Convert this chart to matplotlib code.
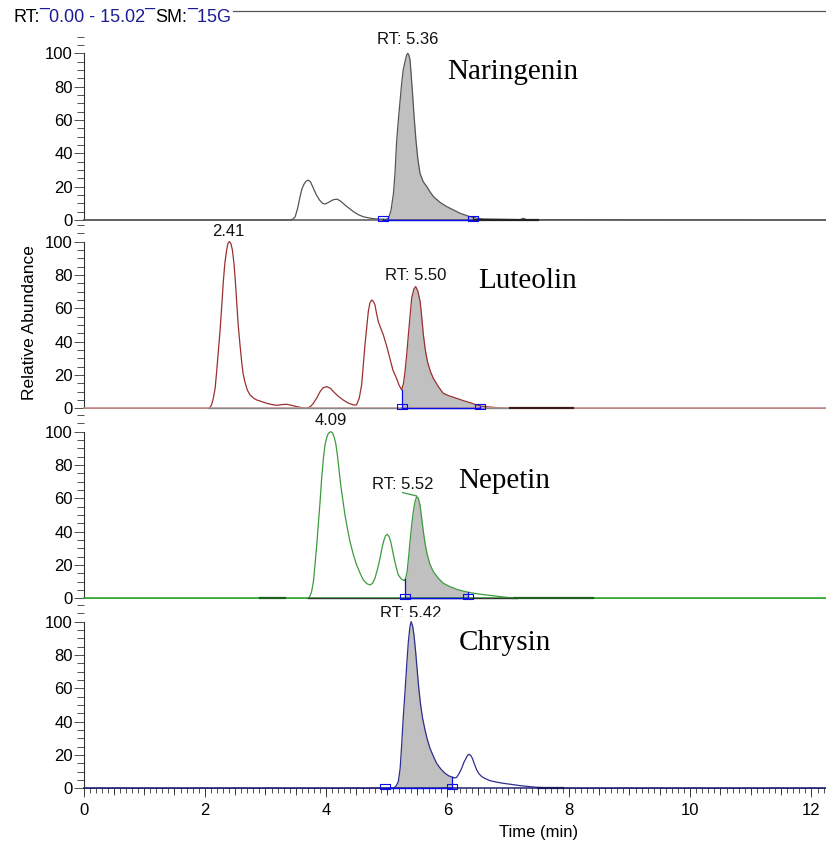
import matplotlib
matplotlib.use("Agg")
import numpy as np
import matplotlib.pyplot as plt
from matplotlib.ticker import MultipleLocator, NullFormatter
from matplotlib.transforms import Bbox, TransformedBbox

plt.rcParams['font.family'] = ['Liberation Sans', 'DejaVu Sans']

W, H = 826, 847
T_MAX = 12.24

# retention time (min) and relative abundance (%)
naringenin_t = [0, 3.42, 3.46, 3.49, 3.53, 3.57, 3.60, 3.635, 3.67, 3.706, 3.74, 3.79, 3.84, 3.89,
                3.94, 3.98, 4.02, 4.06, 4.12, 4.18, 4.24, 4.31, 4.38, 4.45, 4.53, 4.61, 4.72, 4.83,
                4.99, 5.03, 5.07, 5.11, 5.135, 5.16, 5.19, 5.22, 5.245, 5.27, 5.306, 5.325, 5.345,
                5.365, 5.383, 5.40, 5.42, 5.45, 5.48, 5.51, 5.547, 5.60, 5.66, 5.71, 5.77, 5.88,
                5.99, 6.10, 6.21, 6.29, 6.37, 6.48, 6.59, 7.2, 7.25, 7.3, 12.24]
naringenin_v = [0, 0, 0.8, 2, 7, 14, 18.5, 21.5, 23.3, 23.9, 23, 19, 15, 12,
                10, 9.6, 10.2, 11, 12.2, 12.5, 11.3, 9, 7, 5, 3.2, 2, 1.1, 0.6,
                0.4, 1.2, 6, 16, 28, 46, 60, 72, 82, 90, 96, 98.8, 100,
                98.8, 96, 88, 78, 62, 48, 37, 28, 23, 20, 17, 14, 10.5,
                8, 6, 4, 3, 2, 1.1, 0.6, 0.2, 1, 0.2, 0]

luteolin_t = [0, 2.06, 2.085, 2.11, 2.14, 2.17, 2.195, 2.22, 2.25, 2.28, 2.305, 2.33, 2.36, 2.38,
              2.404, 2.43, 2.454, 2.48, 2.5, 2.525, 2.55, 2.58, 2.607, 2.63, 2.66, 2.70, 2.745,
              2.80, 2.855, 2.94, 3.02, 3.10, 3.185, 3.27, 3.35, 3.43, 3.51, 3.60, 3.68, 3.74, 3.79,
              3.85, 3.90, 3.95, 4.01, 4.07, 4.12, 4.20, 4.28, 4.36, 4.45, 4.5, 4.545, 4.585, 4.61,
              4.64, 4.67, 4.695, 4.72, 4.75, 4.78, 4.805, 4.83, 4.86, 4.90, 4.943, 5.00, 5.05,
              5.10, 5.16, 5.20, 5.245, 5.275, 5.30, 5.33, 5.355, 5.385, 5.41, 5.445, 5.476, 5.51,
              5.55, 5.575, 5.603, 5.635, 5.67, 5.72, 5.767, 5.85, 5.93, 6.04, 6.15, 6.26, 6.37,
              6.45, 6.54, 6.68, 6.81, 7.0, 12.24]
luteolin_v = [0, 0, 0.5, 2, 6, 12, 22, 33, 46, 62, 76, 87, 95, 98.8,
              100, 98.8, 95, 87, 78, 64, 50, 38, 28, 21, 16, 11, 8,
              6.2, 5, 4, 3, 2.3, 1.8, 2.2, 2.4, 1.8, 1, 0.4, 0, 1, 3,
              6.5, 10, 12.3, 13, 12, 10, 7.2, 5, 3.2, 2, 2, 6, 14, 25,
              38, 49, 58, 63, 65, 64, 62, 57, 52, 48, 44, 37, 30,
              23, 18, 14, 11, 15, 22, 33, 44, 56, 66, 71.5, 73, 70.5,
              64, 55, 44, 35, 28, 22, 18, 13, 9, 7.3, 6, 4.6, 3.4,
              2.4, 1.4, 0.8, 0.4, 0, 0]

nepetin_t = [0, 3.707, 3.735, 3.76, 3.79, 3.816, 3.845, 3.87, 3.90, 3.926, 3.955, 3.981, 4.01,
             4.037, 4.075, 4.105, 4.13, 4.16, 4.185, 4.21, 4.24, 4.275, 4.31, 4.35, 4.393, 4.45,
             4.503, 4.56, 4.613, 4.67, 4.723, 4.765, 4.805, 4.85, 4.888, 4.92, 4.954, 4.98, 5.01,
             5.04, 5.064, 5.09, 5.12, 5.155, 5.19, 5.24, 5.29, 5.31, 5.335, 5.36, 5.382, 5.41,
             5.437, 5.465, 5.492, 5.52, 5.547, 5.575, 5.602, 5.635, 5.668, 5.71, 5.767, 5.85,
             5.932, 6.04, 6.152, 6.26, 6.372, 6.51, 6.646, 6.78, 6.92, 7.03, 7.14, 12.24]
nepetin_v = [0, 0, 1.5, 4, 10, 20, 32, 44, 58, 72, 84, 92, 96.5,
             99, 100, 99.2, 97, 92.5, 86, 78, 68, 59, 50, 42, 34, 26,
             20, 15, 11, 8.8, 8, 9, 12, 18, 24, 30, 35, 37.6, 38.4,
             36.8, 34, 29.5, 24, 18.5, 14, 11.5, 10.6, 12, 16, 25, 34, 44,
             52, 58, 61, 60, 56, 48, 40, 32, 26, 20.5, 16, 12,
             9, 7, 5.4, 4.3, 3.4, 2.6, 2, 1.4, 0.8, 0.4, 0, 0]
nepetin_tick_t = [5.26, 5.49]
nepetin_tick_v = [63.4, 61.4]

chrysin_t = [0, 5.107, 5.15, 5.19, 5.22, 5.245, 5.27, 5.30, 5.33, 5.355, 5.38, 5.40, 5.425, 5.448,
             5.475, 5.503, 5.53, 5.558, 5.59, 5.63, 5.67, 5.712, 5.77, 5.822, 5.89, 5.96, 6.02,
             6.085, 6.12, 6.152, 6.19, 6.234, 6.27, 6.306, 6.33, 6.356, 6.385, 6.41, 6.445, 6.482,
             6.52, 6.565, 6.63, 6.70, 6.81, 6.92, 7.06, 7.197, 7.33, 7.47, 7.65, 7.85, 12.24]
chrysin_v = [0, 0, 1.2, 4, 12, 26, 42, 58, 75, 88, 96.5, 100, 97.5, 92,
             82, 70, 59, 50, 42, 35, 29, 24, 19, 15, 11.6, 9, 7.5,
             6.6, 6.2, 6.6, 8.8, 12, 15.5, 18, 19.8, 20.4, 19.6, 18, 14.5, 11,
             8.7, 7, 5.7, 4.6, 3.7, 3, 2.3, 1.6, 1.1, 0.6, 0.3, 0, 0]

compounds = ["Naringenin", "Luteolin", "Nepetin", "Chrysin"]
# integrated peak window (start, end) in min
windows = [(4.93, 6.42), (5.245, 6.54), (5.30, 6.333), (4.97, 6.075)]
# peak labels: text, time, abundance
peak_labels = [
    [("RT: 5.36", 5.35, 113.0)],
    [("2.41", 2.39, 106.0), ("RT: 5.50", 5.47, 79.5)],
    [("4.09", 4.075, 106.5), ("RT: 5.52", 5.26, 68.2)],
    [("RT: 5.42", 5.40, 109.5)],
]
name_pos = [(5.99, 84.7), (6.51, 72.4), (6.18, 66.4), (6.18, 83.0)]
noise_ranges = [[(6.45, 7.5)], [(7.03, 8.07)], [(2.91, 3.32), (7.1, 8.4)], [(7.5, 7.9)]]

traces = [(naringenin_t, naringenin_v), (luteolin_t, luteolin_v),
          (nepetin_t, nepetin_v), (chrysin_t, chrysin_v)]
line_colors = ['#555555', '#9b3030', '#3d9b3d', '#2e2e8e']
base_colors = ['#555555', '#c99a9a', '#33aa33', '#22226e']
under_colors = [None, '#888888', '#333333', None]
noise_colors = ['#222222', '#3a1a1a', '#1f5f1f', '#1a1a5a']
clip_below = [104.8, None, None, 103.0]

baselines_px = [220, 408.3, 598.3, 788.3]
panel_px = 189
px_per_unit = 1.667
ytop = panel_px / px_per_unit
x0_px = 83.5
blue = '#0a0aee'
axis_col = '#333333'
rect_marker = [(-1, -0.3), (1, -0.3), (1, 0.83), (-1, 0.83), (-1, -0.3)]

fig = plt.figure(figsize=(W / 100, H / 100), dpi=100)

for i in range(4):
    base = baselines_px[i]
    ax = fig.add_axes([x0_px / W, 1 - base / H, 1 - x0_px / W, panel_px / H])
    t = np.array(traces[i][0])
    v = np.array(traces[i][1])

    # integrated area
    a, b = windows[i]
    inside = (t > a) & (t < b)
    ft = np.concatenate([[a], t[inside], [b]])
    fv = np.interp(ft, t, v)
    ax.fill_between(ft, 0, fv, color='#c0c0c0', lw=0, zorder=1)

    ax.plot(t, v, color=line_colors[i], lw=0.9, zorder=2, clip_on=False)
    ax.plot([0, T_MAX], [0, 0], color=base_colors[i], lw=1.1, zorder=3, clip_on=False)
    if under_colors[i]:
        nz = np.nonzero(v)[0]
        ax.plot([t[nz[0] - 1], t[nz[-1] + 1]], [0, 0], color=under_colors[i], lw=1.0, zorder=3,
                clip_on=False)
    for s, e in noise_ranges[i]:
        ax.plot([s, e], [0, 0], color=noise_colors[i], lw=1.6, zorder=3, clip_on=False)
    if i == 2:
        ax.plot(nepetin_tick_t, nepetin_tick_v, color=line_colors[i], lw=0.9, zorder=2)

    ax.plot([a, b], [0, 0], color=blue, lw=1.0, zorder=4, clip_on=False)
    ax.plot([a, a], [0, fv[0]], color=blue, lw=0.9, zorder=4)
    ax.plot([b, b], [0, fv[-1]], color=blue, lw=0.9, zorder=4)
    ax.plot([a, b], [0, 0], ls='none', marker=rect_marker, ms=6.5, mfc='none', mec=blue, mew=0.8,
            zorder=5, clip_on=False)

    for txt, tx, ty in peak_labels[i]:
        if clip_below[i] is not None:
            lab = ax.text(tx, ty, txt, ha='center', va='top', fontsize=12, color='#111111',
                          clip_on=True)
            lab.set_clip_box(TransformedBbox(Bbox([[0, clip_below[i]], [T_MAX, 200]]),
                                             ax.transData))
        else:
            ax.text(tx, ty, txt, ha='center', va='center', fontsize=12, color='#111111')

    nx, ny = name_pos[i]
    ax.text(nx, ny, compounds[i], ha='left', va='baseline', fontsize=21,
            family=['Liberation Serif', 'DejaVu Serif'], color='black')

    ax.set_xlim(0, T_MAX)
    ax.set_ylim(0, ytop)
    for side in ['top', 'right', 'bottom']:
        ax.spines[side].set_visible(False)
    ax.spines['left'].set_bounds(0, 100)
    ax.spines['left'].set_color(axis_col)
    ax.spines['left'].set_linewidth(0.8)
    ax.set_yticks(range(0, 101, 20))
    ax.yaxis.set_minor_locator(MultipleLocator(5))
    ax.tick_params(axis='y', which='major', length=7.2, width=0.6, pad=0.5, labelsize=12,
                   color=axis_col)
    ax.tick_params(axis='y', which='minor', length=5, width=0.6, color=axis_col)
    ax.patch.set_alpha(0)

    if i < 3:
        ax.tick_params(axis='x', which='both', bottom=False, labelbottom=False)
    else:
        ax.xaxis.set_major_locator(MultipleLocator(2))
        ax.xaxis.set_minor_locator(MultipleLocator(0.1))
        ax.tick_params(axis='x', which='major', length=6.5, width=0.6, pad=4, labelsize=12,
                       color=axis_col)
        ax.tick_params(axis='x', which='minor', length=3.4, width=0.6, color=axis_col)
        sec = ax.secondary_xaxis('bottom')
        sec.xaxis.set_major_locator(MultipleLocator(0.5))
        sec.xaxis.set_major_formatter(NullFormatter())
        sec.tick_params(axis='x', length=4.8, width=0.6, color=axis_col)
        sec.spines['bottom'].set_visible(False)

fig.text(30 / W, 1 - 323 / H, "Relative Abundance", rotation=90, ha='center', va='center',
         fontsize=12.5)
fig.text(539 / W, 1 - 832 / H, "Time (min)", ha='center', va='center', fontsize=12)

# header line of the chromatogram window
renderer = fig.canvas.get_renderer()
hx = 13
header = [("RT:", 'black'), ("¯0.00 - 15.02¯", '#1c1c96'), ("SM:", 'black'), ("¯15G", '#1c1c96')]
for s, c in header:
    ht = fig.text(hx / W, 1 - 17 / H, s, color=c, fontsize=13, ha='left', va='center')
    hx = ht.get_window_extent(renderer=renderer).x1
fig.add_artist(plt.Line2D([hx / W + 2 / W, 1], [1 - 11 / H, 1 - 11 / H], color='#555555', lw=0.9,
                          transform=fig.transFigure))

fig.savefig("out.png", dpi=100)
